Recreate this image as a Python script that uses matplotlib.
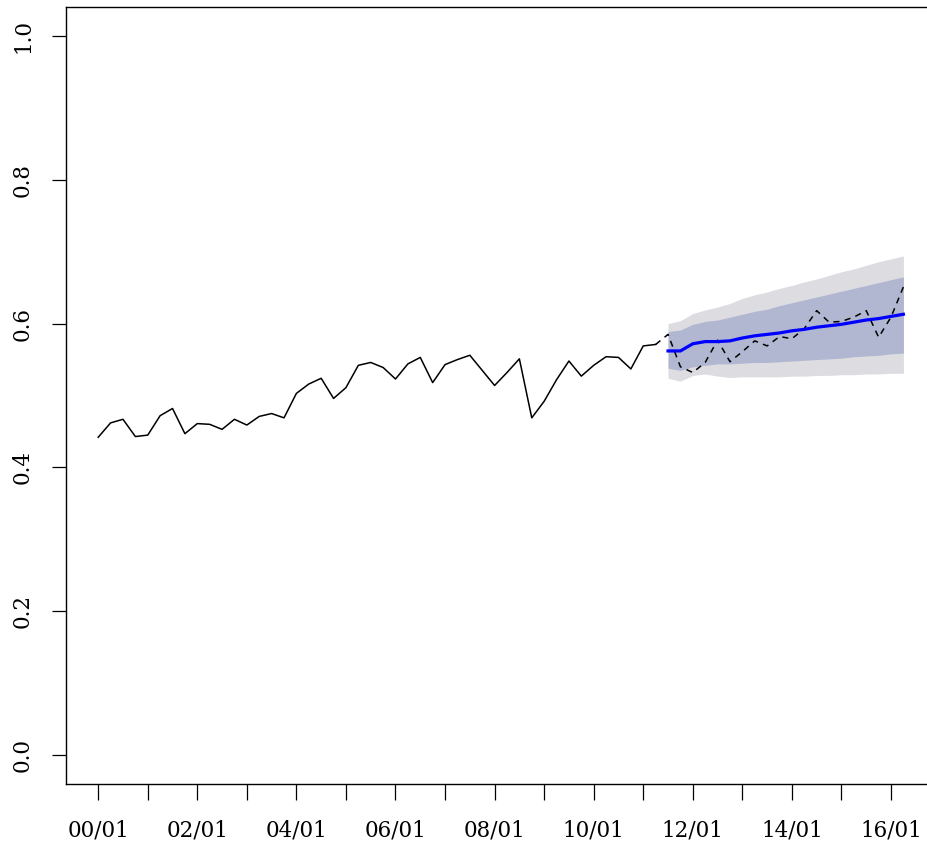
import numpy as np
import matplotlib
matplotlib.use('Agg')
import matplotlib.pyplot as plt

plt.rcParams['font.family'] = ['DejaVu Serif']

# quarterly series, 2000 Q1 - 2011 Q2
start_year = 2000
hist = [0.442, 0.462, 0.467, 0.443, 0.445, 0.472, 0.482, 0.447, 0.461, 0.460,
        0.453, 0.467, 0.459, 0.471, 0.475, 0.469, 0.503, 0.516, 0.524, 0.496,
        0.511, 0.542, 0.546, 0.539, 0.523, 0.544, 0.553, 0.518, 0.543, 0.550,
        0.556, 0.535, 0.514, 0.532, 0.551, 0.469, 0.492, 0.522, 0.548, 0.527,
        0.542, 0.554, 0.553, 0.537, 0.569, 0.571]

# held-out values, 2011 Q3 - 2016 Q2
test = [0.585, 0.540, 0.532, 0.546, 0.577, 0.547, 0.561, 0.576, 0.569, 0.582,
        0.579, 0.593, 0.618, 0.602, 0.603, 0.609, 0.618, 0.581, 0.609, 0.651]

# forecast mean and 80% / 95% intervals
fc_mean = [0.562, 0.562, 0.572, 0.575, 0.575, 0.576, 0.580, 0.583, 0.585, 0.587,
           0.590, 0.592, 0.595, 0.597, 0.599, 0.602, 0.605, 0.607, 0.610, 0.613]
lo80 = [0.538, 0.535, 0.540, 0.542, 0.544, 0.544, 0.545, 0.546, 0.546, 0.547,
        0.548, 0.549, 0.550, 0.551, 0.552, 0.554, 0.555, 0.556, 0.558, 0.559]
hi80 = [0.589, 0.591, 0.599, 0.603, 0.605, 0.609, 0.613, 0.617, 0.620, 0.625,
        0.629, 0.633, 0.637, 0.641, 0.645, 0.649, 0.653, 0.657, 0.661, 0.665]
lo95 = [0.524, 0.520, 0.528, 0.530, 0.527, 0.525, 0.526, 0.526, 0.526, 0.526,
        0.527, 0.527, 0.528, 0.528, 0.529, 0.529, 0.530, 0.530, 0.531, 0.531]
hi95 = [0.600, 0.604, 0.614, 0.619, 0.623, 0.628, 0.635, 0.640, 0.644, 0.649,
        0.653, 0.658, 0.662, 0.667, 0.672, 0.676, 0.681, 0.686, 0.690, 0.694]

tick_years = list(range(2000, 2017))
y_ticks = [0.0, 0.2, 0.4, 0.6, 0.8, 1.0]

t_hist = start_year + np.arange(len(hist)) / 4
t_fc = t_hist[-1] + (np.arange(len(fc_mean)) + 1) / 4
t_test = np.concatenate([[t_hist[-1]], t_fc])
test_line = [hist[-1]] + test

fig = plt.figure(figsize=(9.28, 8.5), dpi=100)
ax = fig.add_axes([0.0711, 0.0776, 0.9371, 0.9141])

ax.fill_between(t_fc, lo95, hi95, color='#dcdce1', linewidth=0)
ax.fill_between(t_fc, lo80, hi80, color='#b1b6d1', linewidth=0)
ax.plot(t_hist, hist, color='black', lw=1.1)
ax.plot(t_test, test_line, color='black', lw=1.1, linestyle=(0, (4, 3.5)))
ax.plot(t_fc, fc_mean, color='#0000ff', lw=2.3)

ax.set_xlim(1999.35, 2016.9)
ax.set_ylim(-0.04, 1.04)

ax.set_xticks(tick_years)
ax.set_xticklabels(['%02d/01' % (y % 100) if y % 2 == 0 else '' for y in tick_years])
ax.set_yticks(y_ticks)
ax.set_yticklabels(['%.1f' % v for v in y_ticks], rotation=90, va='center')

ax.tick_params(axis='x', length=11.5, width=0.9, pad=14, labelsize=15.5)
ax.tick_params(axis='y', length=10, width=0.9, pad=13, labelsize=15.5)
ax.spines['right'].set_visible(False)
for s in ax.spines.values():
    s.set_linewidth(1.0)

fig.savefig('out.png', dpi=100)
